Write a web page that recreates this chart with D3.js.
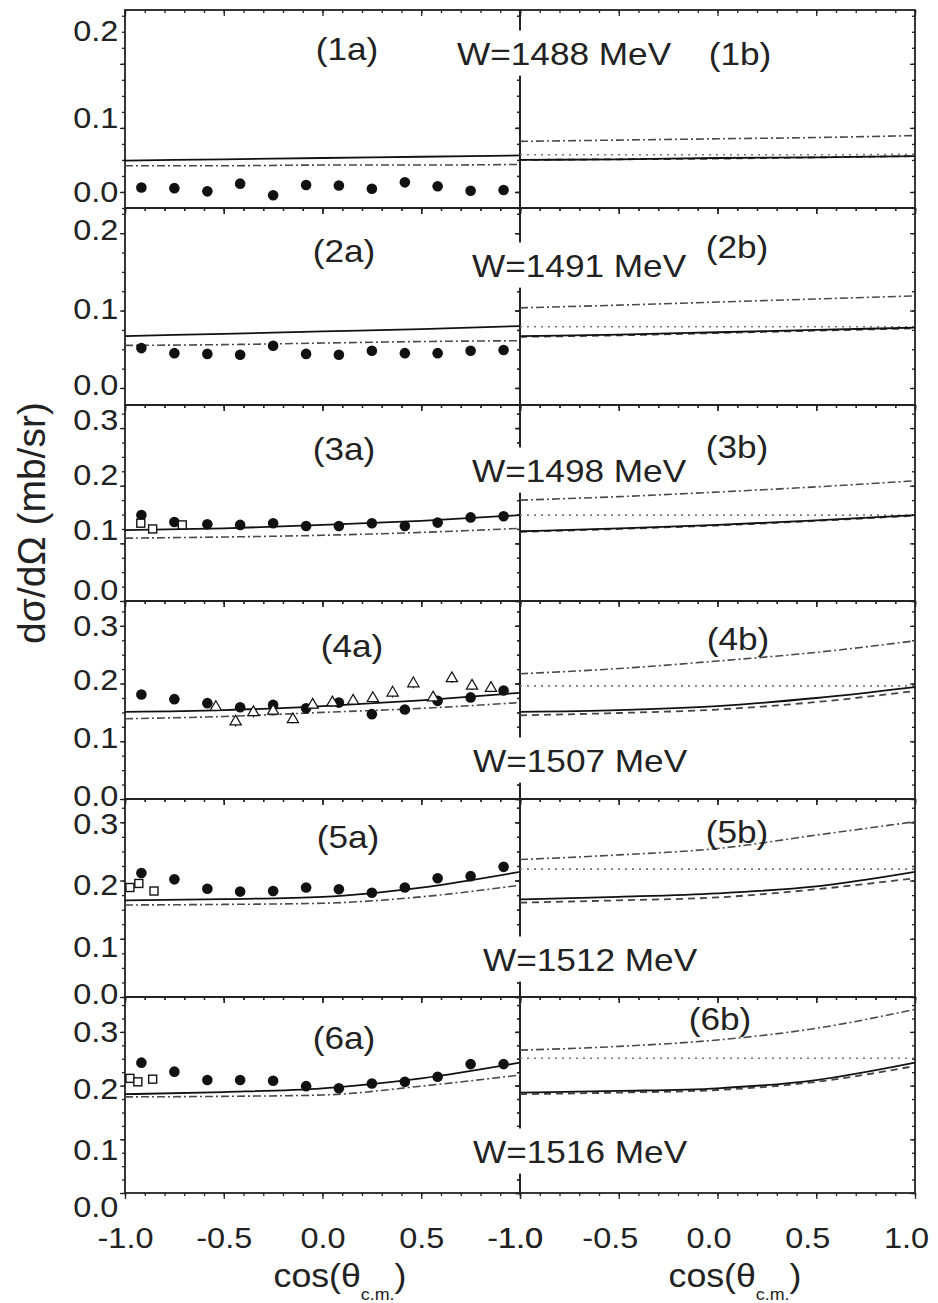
<!DOCTYPE html>
<html>
<head>
<meta charset="utf-8">
<script src="https://cdn.jsdelivr.net/npm/d3@7"></script>
<style>
body { margin: 0; background: #fff; }
text { font-family: "Liberation Sans", Arial, sans-serif; fill: #222; }
</style>
</head>
<body>
<div id="chart"></div>
<script>
var width = 938;
var height = 1303;
var stretch = 1.1;

// ---- data ----
var energies = ['1488', '1491', '1498', '1507', '1512', '1516'];
var cosBins = [-0.917, -0.75, -0.583, -0.417, -0.25, -0.083, 0.083, 0.25, 0.417, 0.583, 0.75, 0.917];

var circleValues = [
    [0.007, 0.006, 0.001, 0.013, -0.005, 0.011, 0.010, 0.005, 0.015, 0.009, 0.002, 0.003],
    [0.0515, 0.045, 0.044, 0.043, 0.0545, 0.044, 0.043, 0.048, 0.045, 0.045, 0.048, 0.049],
    [0.149, 0.137, 0.133, 0.132, 0.135, 0.130, 0.130, 0.135, 0.130, 0.136, 0.145, 0.147],
    [0.181, 0.173, 0.166, 0.159, 0.163, 0.157, 0.167, 0.147, 0.155, 0.170, 0.176, 0.188],
    [0.213, 0.202, 0.186, 0.181, 0.182, 0.188, 0.185, 0.179, 0.188, 0.204, 0.2075, 0.2235],
    [0.2427, 0.226, 0.2104, 0.2104, 0.209, 0.199, 0.195, 0.204, 0.207, 0.2166, 0.240, 0.240]
];
var circleErrors = [0.003, 0.004, 0.005, 0.005, 0.006, 0.006];

var squareCos = [[], [], [-0.92, -0.86, -0.71], [], [-0.975, -0.93, -0.853], [-0.975, -0.935, -0.86]];
var squareValues = [[], [], [0.135, 0.125, 0.132], [], [0.188, 0.195, 0.182], [0.2135, 0.207, 0.212]];

var triangleCos = [-0.54, -0.44, -0.35, -0.25, -0.15, -0.05, 0.05, 0.155, 0.255, 0.355, 0.46, 0.56, 0.655, 0.757, 0.853];
var triangleValues = [0.159, 0.134, 0.150, 0.1525, 0.138, 0.163, 0.167, 0.170, 0.1745, 0.184, 0.200, 0.1756, 0.209, 0.196, 0.192];
var triangleErrors = [0.007, 0.009, 0.009, 0.008, 0.007, 0.007, 0.007, 0.007, 0.007, 0.008, 0.008, 0.008, 0.008, 0.007, 0.007];

// model curves, sampled at these cos values
var curveCos = [-1, -0.5, 0, 0.5, 1];
var solidA = [
    [0.049, 0.051, 0.053, 0.055, 0.057],
    [0.067, 0.070, 0.073, 0.076, 0.080],
    [0.123, 0.126, 0.132, 0.139, 0.149],
    [0.151, 0.154, 0.161, 0.171, 0.184],
    [0.166, 0.168, 0.172, 0.188, 0.215],
    [0.184, 0.188, 0.195, 0.2135, 0.2427]
];
var dashDotA = [
    [0.041, 0.041, 0.042, 0.042, 0.043],
    [0.055, 0.056, 0.058, 0.060, 0.061],
    [0.109, 0.111, 0.114, 0.119, 0.126],
    [0.139, 0.143, 0.150, 0.157, 0.167],
    [0.158, 0.159, 0.161, 0.172, 0.192],
    [0.179, 0.180, 0.1825, 0.199, 0.2197]
];
var solidB = [
    [0.050, 0.051, 0.053, 0.054, 0.056],
    [0.067, 0.069, 0.072, 0.075, 0.078],
    [0.121, 0.126, 0.132, 0.140, 0.149],
    [0.151, 0.154, 0.161, 0.175, 0.194],
    [0.1676, 0.172, 0.178, 0.190, 0.215],
    [0.187, 0.190, 0.195, 0.2104, 0.2427]
];
var dashedB = [
    [0.050, 0.051, 0.052, 0.054, 0.056],
    [0.066, 0.068, 0.071, 0.074, 0.077],
    [0.120, 0.125, 0.131, 0.139, 0.148],
    [0.145, 0.149, 0.155, 0.168, 0.187],
    [0.162, 0.166, 0.171, 0.185, 0.204],
    [0.184, 0.187, 0.1918, 0.207, 0.2365]
];
var dottedB = [
    [0.058, 0.058, 0.058, 0.058, 0.059],
    [0.079, 0.079, 0.079, 0.079, 0.079],
    [0.149, 0.149, 0.149, 0.149, 0.149],
    [0.196, 0.196, 0.196, 0.196, 0.196],
    [0.2195, 0.2195, 0.2195, 0.2195, 0.2195],
    [0.251, 0.251, 0.251, 0.251, 0.251]
];
var dashDotB = [
    [0.079, 0.081, 0.083, 0.085, 0.088],
    [0.1035, 0.107, 0.111, 0.115, 0.119],
    [0.175, 0.181, 0.189, 0.198, 0.2085],
    [0.217, 0.226, 0.239, 0.254, 0.274],
    [0.236, 0.244, 0.255, 0.278, 0.301],
    [0.266, 0.273, 0.285, 0.3067, 0.342]
];

var yTicksLow = [0, 0.1, 0.2];
var yTicksHigh = [0, 0.1, 0.2, 0.3];
var xTicks = [-1, -0.5, 0, 0.5, 1];

// ---- layout ----
var panelX = [[125, 520], [520, 915]];
var rowBox = [[10, 208], [208, 405], [405, 601], [601, 799], [799, 997], [997, 1193]];
var rowDomain = [[-0.025, 0.284], [-0.022, 0.2325], [0, 0.34], [0, 0.343], [0, 0.34], [0, 0.365]];
// vertical nudge of each y tick label relative to its tick, as placed in the original figure
var yLabelNudge = [[0, -10, -33], [-3, -1, -3], [-11, -13, -10, -8], [-3, -3, -3, 0], [-3, 8, 5, 2], [14, 11, 4, 0]];
var panelLabelPos = [
    [[347, 60], [740, 65]],
    [[344, 262], [737, 258]],
    [[344, 460], [737, 458]],
    [[352, 657], [738, 650]],
    [[348, 848], [737, 843]],
    [[344, 1049], [720, 1030]]
];
var wLabelPos = [[457, 65], [472, 277], [472, 482], [473, 772], [483, 971], [473, 1163]];

var svg = d3.select('#chart')
    .append('svg')
    .attr('width', width)
    .attr('height', height);

var fmt = d => d.toFixed(1);

var styleTicks = (g) => {
    g.select('.domain').remove();
    g.selectAll('.tick line').attr('stroke', '#222').attr('stroke-width', 1.3);
    g.selectAll('.tick text')
        .attr('transform', 'scale(1.12,1)')
        .style('font-size', '29px')
        .style('font-family', '"Liberation Sans", Arial, sans-serif')
        .attr('fill', '#222');
};

var lineStyles = {
    solid: { stroke: '#111', width: 1.8, dash: null },
    dashed: { stroke: '#444', width: 1.8, dash: '7,5' },
    dotted: { stroke: '#777', width: 1.6, dash: '2,5' },
    dashDot: { stroke: '#4a4a4a', width: 1.6, dash: '8,3,2,3' }
};

rowBox.forEach((box, r) => {
    var yScale = d3.scaleLinear().domain(rowDomain[r]).range([box[1], box[0]]);
    var hi = rowDomain[r][1];
    var lo = rowDomain[r][0];
    var minorY = d3.range(-0.025, hi + 1e-9, 0.025).filter(v => v >= lo - 1e-9);
    var majorY = r < 2 ? yTicksLow : yTicksHigh;

    panelX.forEach((px, side) => {
        var xScale = d3.scaleLinear().domain([-1, 1]).range(px);
        var g = svg.append('g');

        // bottom axis (major + minor), ticks outward
        var gb = g.append('g').attr('transform', 'translate(0,' + box[1] + ')');
        gb.call(d3.axisBottom(xScale).tickValues(d3.range(-1, 1.0001, 0.1)).tickSize(3).tickFormat(''));
        styleTicks(gb);
        var gbm = g.append('g').attr('transform', 'translate(0,' + box[1] + ')');
        gbm.call(d3.axisBottom(xScale).tickValues(xTicks).tickSize(6).tickPadding(28)
            .tickFormat(r === 5 ? fmt : ''));
        styleTicks(gbm);
        // right-panel labels sit a little left of their ticks; its -1.0 lands on the left panel's 1.0
        if (side === 1) gbm.selectAll('.tick text').attr('dx', d => d === -1 ? -4.8 : -8);

        // top axis, ticks inward
        var gt = g.append('g').attr('transform', 'translate(0,' + box[0] + ')');
        gt.call(d3.axisBottom(xScale).tickValues(d3.range(-1, 1.0001, 0.1)).tickSize(3).tickFormat(''));
        styleTicks(gt);
        var gtm = g.append('g').attr('transform', 'translate(0,' + box[0] + ')');
        gtm.call(d3.axisBottom(xScale).tickValues(xTicks).tickSize(6).tickFormat(''));
        styleTicks(gtm);

        // left and right edges, ticks pointing left
        [px[0], px[1]].forEach((ax, k) => {
            var gl = g.append('g').attr('transform', 'translate(' + ax + ',0)');
            gl.call(d3.axisLeft(yScale).tickValues(minorY).tickSize(3).tickFormat(''));
            styleTicks(gl);
            var glm = g.append('g').attr('transform', 'translate(' + ax + ',0)');
            var labelled = side === 0 && k === 0;
            glm.call(d3.axisLeft(yScale).tickValues(majorY).tickSize(5).tickPadding(1)
                .tickFormat(labelled ? fmt : ''));
            styleTicks(glm);
            if (labelled) {
                glm.selectAll('.tick text').attr('y', d => yLabelNudge[r][majorY.indexOf(d)]);
            }
        });

        // frame
        g.append('rect')
            .attr('x', px[0]).attr('y', box[0])
            .attr('width', px[1] - px[0]).attr('height', box[1] - box[0])
            .attr('fill', 'none').attr('stroke', '#222').attr('stroke-width', 1.8);
    });
});

// W labels with white background (they knock out the middle divider)
rowBox.forEach((box, r) => {
    var p = wLabelPos[r];
    var wg = svg.append('g').attr('transform', 'translate(' + p[0] + ',' + p[1] + ') scale(' + stretch + ',1)');
    var bg = wg.append('rect').attr('fill', '#fff');
    var t = wg.append('text').style('font-size', '32px').text('W=' + energies[r] + ' MeV');
    var bb = t.node().getBBox();
    bg.attr('x', bb.x - 2).attr('y', bb.y - 6).attr('width', bb.width + 4).attr('height', bb.height + 10);
});

// curves and data
rowBox.forEach((box, r) => {
    var yScale = d3.scaleLinear().domain(rowDomain[r]).range([box[1], box[0]]);

    panelX.forEach((px, side) => {
        var xScale = d3.scaleLinear().domain([-1, 1]).range(px);
        var clipId = 'clip' + r + '_' + side;
        svg.append('clipPath').attr('id', clipId)
            .append('rect').attr('x', px[0]).attr('y', box[0])
            .attr('width', px[1] - px[0]).attr('height', box[1] - box[0]);
        var g = svg.append('g').attr('clip-path', 'url(#' + clipId + ')');

        var line = d3.line()
            .x(d => xScale(d[0]))
            .y(d => yScale(d[1]))
            .curve(d3.curveMonotoneX);

        var curves = side === 0
            ? [['dashDot', dashDotA[r]], ['solid', solidA[r]]]
            : [['dotted', dottedB[r]], ['dashDot', dashDotB[r]], ['dashed', dashedB[r]], ['solid', solidB[r]]];

        curves.forEach(c => {
            var st = lineStyles[c[0]];
            g.append('path')
                .datum(d3.zip(curveCos, c[1]))
                .attr('d', line)
                .attr('fill', 'none')
                .attr('stroke', st.stroke)
                .attr('stroke-width', st.width)
                .attr('stroke-dasharray', st.dash);
        });

        // panel label
        var lp = panelLabelPos[r][side];
        svg.append('text')
            .attr('transform', 'translate(' + lp[0] + ',' + lp[1] + ') scale(' + stretch + ',1)')
            .attr('text-anchor', 'middle')
            .style('font-size', '32px')
            .text('(' + (r + 1) + (side === 0 ? 'a' : 'b') + ')');

        if (side !== 0) return;

        // filled circles
        var circ = d3.zip(cosBins, circleValues[r]);
        g.selectAll('.err')
            .data(circ)
            .enter()
            .append('line')
            .attr('x1', d => xScale(d[0])).attr('x2', d => xScale(d[0]))
            .attr('y1', d => yScale(d[1] - circleErrors[r]))
            .attr('y2', d => yScale(d[1] + circleErrors[r]))
            .attr('stroke', '#111').attr('stroke-width', 1.2);
        g.selectAll('.dot')
            .data(circ)
            .enter()
            .append('circle')
            .attr('class', 'dot')
            .attr('cx', d => xScale(d[0]))
            .attr('cy', d => yScale(d[1]))
            .attr('r', 5.3)
            .attr('fill', '#111');

        // open squares
        var sq = d3.zip(squareCos[r], squareValues[r]);
        g.selectAll('.sq')
            .data(sq)
            .enter()
            .append('rect')
            .attr('class', 'sq')
            .attr('x', d => xScale(d[0]) - 4)
            .attr('y', d => yScale(d[1]) - 4)
            .attr('width', 8).attr('height', 8)
            .attr('fill', '#fff').attr('stroke', '#111').attr('stroke-width', 1.4);

        // open triangles
        if (r === 3) {
            var tri = d3.zip(triangleCos, triangleValues, triangleErrors);
            g.selectAll('.terr')
                .data(tri)
                .enter()
                .append('line')
                .attr('x1', d => xScale(d[0])).attr('x2', d => xScale(d[0]))
                .attr('y1', d => yScale(d[1] - d[2]))
                .attr('y2', d => yScale(d[1] + d[2]))
                .attr('stroke', '#111').attr('stroke-width', 1.1);
            g.selectAll('.tri')
                .data(tri)
                .enter()
                .append('path')
                .attr('d', d3.symbol(d3.symbolTriangle, 55))
                .attr('transform', d => 'translate(' + xScale(d[0]) + ',' + yScale(d[1]) + ')')
                .attr('fill', '#fff').attr('stroke', '#111').attr('stroke-width', 1.2);
        }
    });
});

// axis titles
svg.append('text')
    .attr('transform', 'translate(45,523) rotate(-90)')
    .attr('text-anchor', 'middle')
    .style('font-size', '39px')
    .text('dσ/dΩ (mb/sr)');

[322, 717].forEach(cx => {
    var t = svg.append('text')
        .attr('transform', 'translate(' + (cx + 18) + ',1287) scale(1.05,1)')
        .attr('text-anchor', 'middle')
        .style('font-size', '34px');
    t.append('tspan').text('cos(θ');
    t.append('tspan').attr('dy', 13).style('font-size', '17px').text('c.m.');
    t.append('tspan').attr('dy', -13).text(')');
});
</script>
</body>
</html>
